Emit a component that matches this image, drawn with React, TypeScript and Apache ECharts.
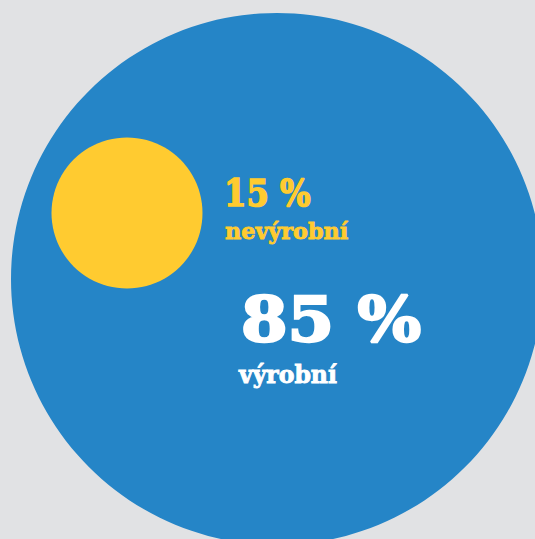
import React, { useEffect, useRef } from "react";
import * as echarts from "echarts";

const shares = ["15 %", "85 %"];
const labels = ["nevýrobní", "výrobní"];
const colors = ["#ffcb30", "#2585c7"];
const textColors = ["#ffcb30", "#ffffff"];

export default function App() {
  const ref = useRef<HTMLDivElement>(null);
  useEffect(() => {
    document.body.style.margin = "0";
    const chart = echarts.init(ref.current!, null, { renderer: "svg" });
    const font = "'DejaVu Serif', serif";
    chart.setOption({
      animation: false,
      backgroundColor: "#e1e2e4",
      graphic: [
        { type: "circle", shape: { cx: 277, cy: 279, r: 266 }, style: { fill: colors[1] } },
        { type: "circle", shape: { cx: 127, cy: 213, r: 75.5 }, style: { fill: colors[0] } },
        {
          type: "text", x: 224, y: 211, scaleX: 0.87,
          style: { text: shares[0], fill: textColors[0], stroke: textColors[0], lineWidth: 1.6, font: `bold 37px ${font}`, verticalAlign: "bottom" },
        },
        {
          type: "text", x: 225, y: 242, scaleX: 0.97,
          style: { text: labels[0], fill: textColors[0], stroke: textColors[0], lineWidth: 0.9, font: `bold 23px ${font}`, verticalAlign: "bottom" },
        },
        {
          type: "text", x: 241, y: 350, scaleX: 1.08,
          style: { text: shares[1], fill: textColors[1], stroke: textColors[1], lineWidth: 2.4, font: `bold 62px ${font}`, verticalAlign: "bottom" },
        },
        {
          type: "text", x: 239, y: 387, scaleX: 0.98,
          style: { text: labels[1], fill: textColors[1], stroke: textColors[1], lineWidth: 0.9, font: `bold 24px ${font}`, verticalAlign: "bottom" },
        },
      ],
    });
    return () => chart.dispose();
  }, []);
  return <div ref={ref} style={{ width: 535, height: 539 }} />;
}
